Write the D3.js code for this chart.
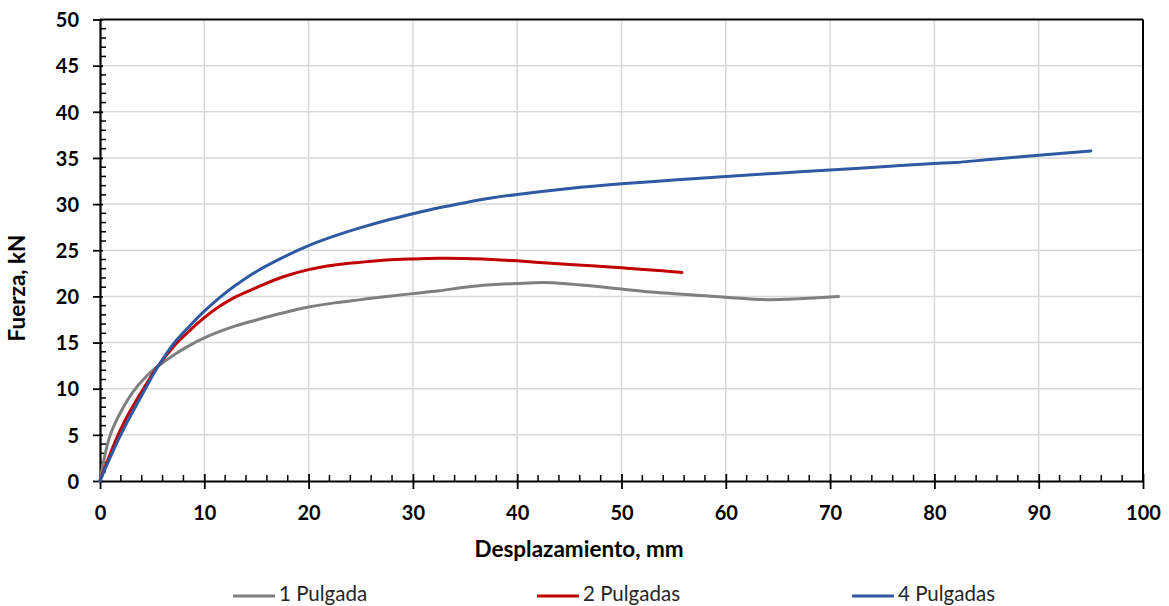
<!DOCTYPE html>
<html>
<head>
<meta charset="utf-8">
<script src="https://cdn.jsdelivr.net/npm/d3@7"></script>
<style>
  body { margin: 0; background: #fff; }
  svg { display: block; font-family: Lato, "Open Sans", sans-serif; }
</style>
</head>
<body>
<div id="chart"></div>
<script>
'use strict';
// Fuerza vs desplazamiento, tres probetas

const xTicks = [0, 10, 20, 30, 40, 50, 60, 70, 80, 90, 100];
const yTicks = [0, 5, 10, 15, 20, 25, 30, 35, 40, 45, 50];

const seriesNames = ['1 Pulgada', '2 Pulgadas', '4 Pulgadas'];
const seriesColors = ['#7f7f7f', '#c00000', '#2f59a3'];

const x1 = [0, 0.45, 0.9, 1.3, 2.2, 3.2, 4.5, 5.4, 7, 8.6, 10, 11.5, 13, 15, 17.5, 20, 22.5, 25, 27.5, 30, 32.5, 35, 37.5, 40, 42.5, 45, 47.5, 50, 52.5, 55, 57.5, 60, 62, 64, 66, 68, 70.8];
const y1 = [0, 2.7, 4.7, 5.9, 7.9, 9.7, 11.4, 12.3, 13.6, 14.7, 15.5, 16.2, 16.8, 17.45, 18.2, 18.85, 19.3, 19.65, 20.0, 20.3, 20.6, 21.0, 21.25, 21.4, 21.5, 21.35, 21.1, 20.8, 20.5, 20.3, 20.1, 19.9, 19.75, 19.65, 19.7, 19.8, 20.0];

const x2 = [0, 1, 1.9, 2.9, 4.5, 5.4, 7, 8.6, 10, 11.5, 13, 15, 17.5, 20, 22.5, 25, 27.5, 30, 32.5, 35, 37.5, 40, 42.5, 45, 47.5, 50, 52.5, 55.8];
const y2 = [0, 3.0, 5.4, 7.6, 10.6, 12.2, 14.5, 16.3, 17.7, 18.95, 19.95, 20.95, 22.1, 22.9, 23.4, 23.7, 23.95, 24.06, 24.12, 24.1, 24.0, 23.85, 23.65, 23.45, 23.3, 23.1, 22.9, 22.6];

const x4 = [0, 1, 1.9, 2.9, 4.5, 5.4, 7, 8.6, 10, 11.5, 13, 15, 17.5, 20, 22.5, 25, 27.5, 30, 32.5, 35, 37.5, 40, 45, 50, 55, 60, 65, 70, 75, 80, 82, 85, 90, 95];
const y4 = [0, 2.6, 4.8, 7.0, 10.3, 12.1, 14.8, 16.8, 18.4, 19.9, 21.2, 22.7, 24.2, 25.5, 26.55, 27.45, 28.25, 28.95, 29.6, 30.15, 30.65, 31.05, 31.7, 32.2, 32.6, 33.0, 33.35, 33.7, 34.05, 34.4, 34.5, 34.8, 35.3, 35.75];

const seriesX = [x1, x2, x4];
const seriesY = [y1, y2, y4];

const W = 1169, H = 606;
const margin = { top: 19.5, right: 26, bottom: 125, left: 100 };
const w = W - margin.left - margin.right;
const h = H - margin.top - margin.bottom;

const svg = d3.select('#chart').append('svg')
  .attr('width', W)
  .attr('height', H);

const g = svg.append('g')
  .attr('transform', `translate(${margin.left},${margin.top})`);

const x = d3.scaleLinear().domain([0, 100]).range([0, w]);
const y = d3.scaleLinear().domain([0, 50]).range([h, 0]);

// rejilla
g.append('g').selectAll('line.gx')
  .data(xTicks.slice(1, -1))
  .enter().append('line')
  .attr('x1', d => x(d)).attr('x2', d => x(d))
  .attr('y1', 0).attr('y2', h)
  .attr('stroke', '#d9d9d9').attr('stroke-width', 1.5);

g.append('g').selectAll('line.gy')
  .data(yTicks.slice(1, -1))
  .enter().append('line')
  .attr('x1', 0).attr('x2', w)
  .attr('y1', d => y(d)).attr('y2', d => y(d))
  .attr('stroke', '#d9d9d9').attr('stroke-width', 1.5);

// marco
g.append('line').attr('x1', 0).attr('x2', w).attr('y1', 0).attr('y2', 0)
  .attr('stroke', '#000').attr('stroke-width', 2);
g.append('line').attr('x1', w).attr('x2', w).attr('y1', 0).attr('y2', h)
  .attr('stroke', '#000').attr('stroke-width', 2);

// ticks menores
g.append('g').selectAll('line')
  .data(d3.range(0, 101, 2).filter(d => d % 10 !== 0))
  .enter().append('line')
  .attr('x1', d => x(d)).attr('x2', d => x(d))
  .attr('y1', h).attr('y2', h - 6)
  .attr('stroke', '#000').attr('stroke-width', 1.5);

g.append('g').selectAll('line')
  .data(d3.range(0, 51, 1).filter(d => d % 5 !== 0))
  .enter().append('line')
  .attr('x1', 0).attr('x2', 6)
  .attr('y1', d => y(d)).attr('y2', d => y(d))
  .attr('stroke', '#000').attr('stroke-width', 1.5);

// ejes
const xAxis = g.append('g')
  .attr('transform', `translate(0,${h})`)
  .call(d3.axisBottom(x).tickValues(xTicks).tickSizeInner(8).tickSizeOuter(0).tickPadding(17));
xAxis.selectAll('.tick line').attr('y1', -7).attr('stroke-width', 1.8);

const yAxis = g.append('g')
  .call(d3.axisLeft(y).tickValues(yTicks).tickSizeInner(7).tickSizeOuter(0).tickPadding(14));
yAxis.selectAll('.tick line').attr('x1', 3).attr('stroke-width', 1.8);

[xAxis, yAxis].forEach(a => {
  a.select('.domain').attr('stroke-width', 2.2);
  a.selectAll('text')
    .attr('font-family', 'Lato, sans-serif')
    .attr('font-weight', 'bold')
    .attr('font-size', 20)
    .attr('fill', '#000');
});
yAxis.selectAll('text').attr('dy', '0.36em');

// curvas
const line = d3.line()
  .x(d => x(d[0]))
  .y(d => y(d[1]))
  .curve(d3.curveCatmullRom.alpha(0.5));

seriesX.forEach((xs, i) => {
  const pts = xs.map((v, j) => [v, seriesY[i][j]]);
  g.append('path')
    .datum(pts)
    .attr('d', line)
    .attr('fill', 'none')
    .attr('stroke', seriesColors[i])
    .attr('stroke-width', 3)
    .attr('stroke-linecap', 'round')
    .attr('stroke-linejoin', 'round');
});

// titulos
svg.append('text')
  .attr('x', 579)
  .attr('y', 557)
  .attr('text-anchor', 'middle')
  .attr('font-weight', 'bold')
  .attr('font-size', 22.5)
  .text('Desplazamiento, mm');

svg.append('text')
  .attr('transform', 'translate(25,288) rotate(-90)')
  .attr('text-anchor', 'middle')
  .attr('font-weight', 'bold')
  .attr('font-size', 22.5)
  .text('Fuerza, kN');

// leyenda
const legendX = [233, 537, 852];
const leg = svg.append('g');
seriesNames.forEach((name, i) => {
  leg.append('line')
    .attr('x1', legendX[i]).attr('x2', legendX[i] + 42)
    .attr('y1', 596).attr('y2', 596)
    .attr('stroke', seriesColors[i]).attr('stroke-width', 3);
  leg.append('text')
    .attr('x', legendX[i] + 46)
    .attr('y', 601)
    .attr('font-size', 20.5)
    .attr('fill', '#262626')
    .text(name);
});
</script>
</body>
</html>
